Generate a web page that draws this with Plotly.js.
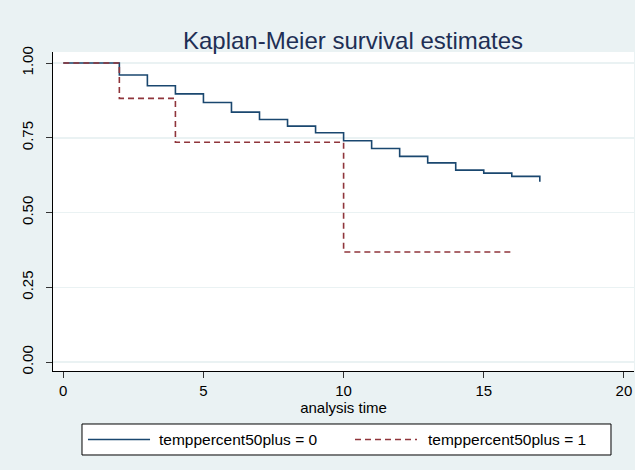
<!DOCTYPE html>
<html>
<head>
<meta charset="utf-8">
<script src="https://cdn.plot.ly/plotly-3.0.1.min.js"></script>
<style>html,body{margin:0;padding:0;background:#EAF2F3;}#chart{width:635px;height:470px;}</style>
</head>
<body>
<div id="chart"></div>
<script>
// Data
const timesGroup0 = [0, 2, 3, 4, 5, 6, 7, 8, 9, 10, 11, 12, 13, 14, 15, 16, 17];
const survGroup0  = [1.0, 0.960, 0.924, 0.897, 0.868, 0.836, 0.811, 0.789, 0.767, 0.740, 0.714, 0.688, 0.666, 0.642, 0.632, 0.621, 0.603];
const timesGroup1 = [0, 2, 4, 10, 16];
const survGroup1  = [1.0, 0.882, 0.735, 0.368, 0.368];
const seriesNames = ["temppercent50plus = 0", "temppercent50plus = 1"];
const xTicks = [0, 5, 10, 15, 20];
const yTicks = [0, 0.25, 0.5, 0.75, 1.0];
const yTickText = ["0.00", "0.25", "0.50", "0.75", "1.00"];

const colors = ["#1A476F", "#90353B"];
const font = "Arial, 'Liberation Sans', sans-serif";

const traces = [
  {x: timesGroup0, y: survGroup0, type: "scatter", mode: "lines", name: seriesNames[0],
   line: {shape: "hv", color: colors[0], width: 1.6}},
  {x: timesGroup1, y: survGroup1, type: "scatter", mode: "lines", name: seriesNames[1],
   line: {shape: "hv", color: colors[1], width: 1.6, dash: "6px,4px"}}
];

const legY = -0.2147;
const layout = {
  width: 635, height: 470,
  paper_bgcolor: "#EAF2F3", plot_bgcolor: "#FFFFFF",
  margin: {l: 53, r: 1, t: 52, b: 99},
  showlegend: false,
  font: {family: font, size: 15, color: "#000"},
  title: {text: "Kaplan-Meier survival estimates", x: 0.556, xanchor: "center",
          y: 0.914, yanchor: "middle", yref: "container",
          font: {family: font, size: 24, color: "#1E2F55"}},
  xaxis: {range: [-0.367, 20.36], tickvals: xTicks, showgrid: false, zeroline: false,
          showline: true, linecolor: "#000", linewidth: 1, mirror: false,
          ticks: "outside", ticklen: 6, tickcolor: "#333",
          tickfont: {family: font, size: 15, color: "#000"},
          title: {text: "analysis time", standoff: 1, font: {family: font, size: 15, color: "#000"}}},
  yaxis: {range: [-0.03, 1.037], tickvals: yTicks, ticktext: yTickText, tickangle: -90,
          showgrid: true, gridcolor: "#EAF2F3", gridwidth: 1.5, zeroline: false,
          showline: true, linecolor: "#000", linewidth: 1,
          ticks: "outside", ticklen: 6, tickcolor: "#333", ticklabelstandoff: 7,
          tickfont: {family: font, size: 15, color: "#000"}},
  shapes: [
    {type: "rect", xref: "paper", yref: "paper", x0: 0.0499, x1: 0.9604, y0: -0.1661, y1: -0.2633,
     line: {color: "#000", width: 1}, fillcolor: "#FFFFFF", layer: "above"},
    {type: "line", xref: "paper", yref: "paper", x0: 0.0602, x1: 0.1670, y0: legY, y1: legY,
     line: {color: colors[0], width: 1.6}},
    {type: "line", xref: "paper", yref: "paper", x0: 0.5198, x1: 0.6265, y0: legY, y1: legY,
     line: {color: colors[1], width: 1.6, dash: "6px,4px"}}
  ],
  annotations: [
    {xref: "paper", yref: "paper", x: 0.179, y: legY, xanchor: "left", yanchor: "middle",
     text: seriesNames[0], showarrow: false, font: {family: font, size: 15.5, color: "#000"}},
    {xref: "paper", yref: "paper", x: 0.642, y: legY, xanchor: "left", yanchor: "middle",
     text: seriesNames[1], showarrow: false, font: {family: font, size: 15.5, color: "#000"}}
  ]
};

Plotly.newPlot("chart", traces, layout, {displayModeBar: false, staticPlot: true});
</script>
</body>
</html>
